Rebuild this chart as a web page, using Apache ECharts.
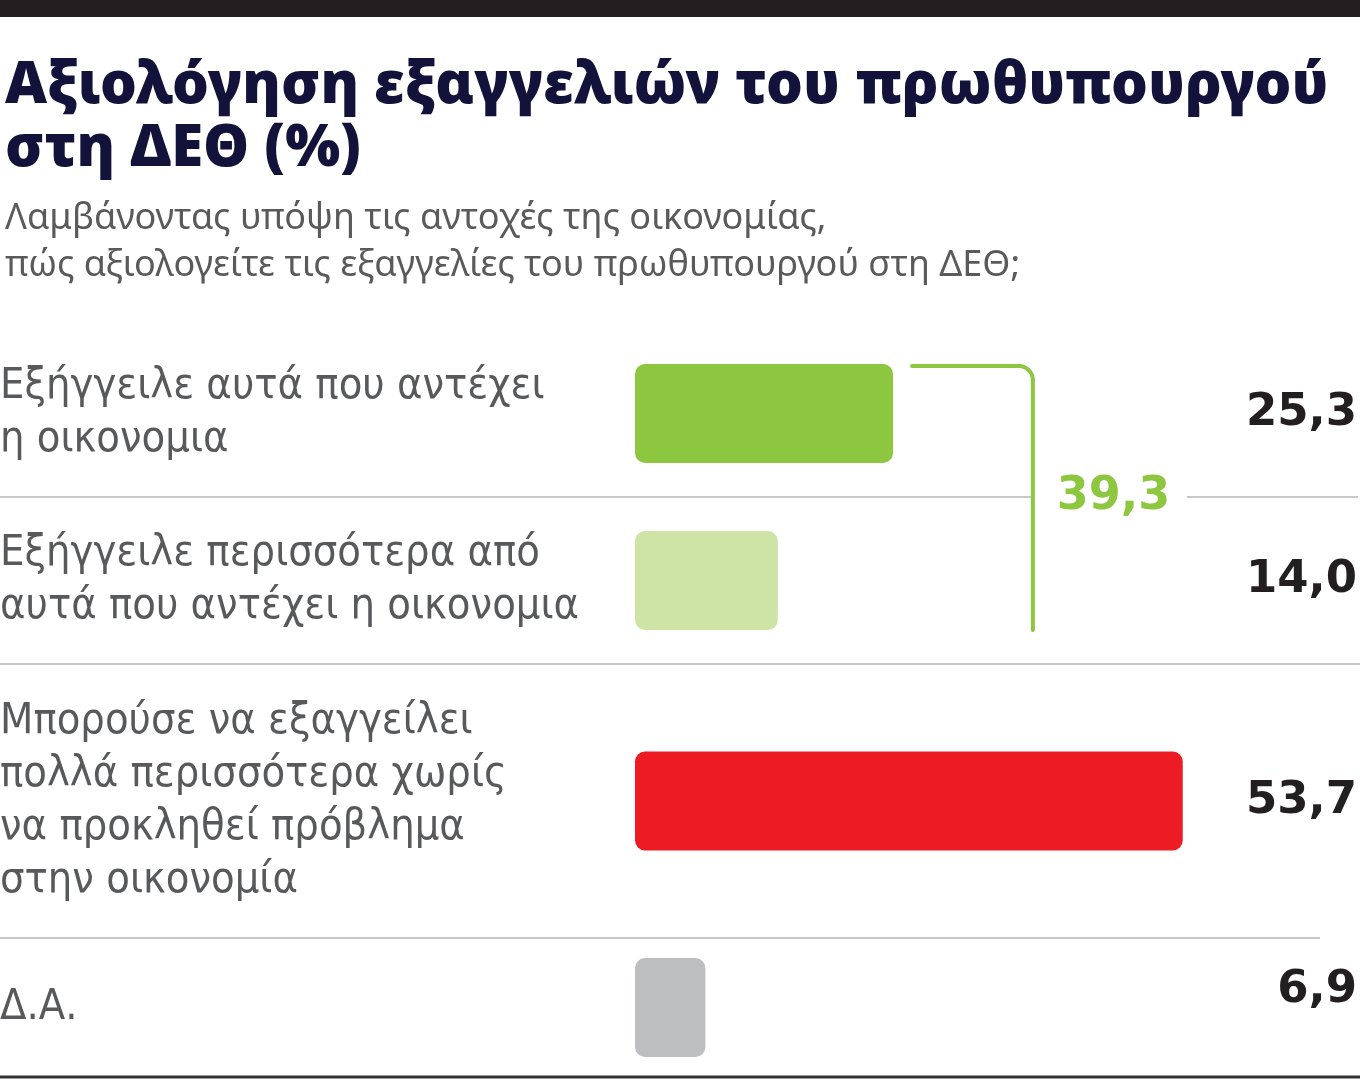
<!DOCTYPE html>
<html>
<head>
<meta charset="utf-8">
<script src="https://cdn.jsdelivr.net/npm/echarts@6/dist/echarts.min.js"></script>
<style>
html,body{margin:0;padding:0;background:#fff;}
#c{width:1360px;height:1080px;}
</style>
</head>
<body>
<div id="c"></div>
<script>
// ---- data ----
const categories = [
  'Εξήγγειλε αυτά που αντέχει\nη οικονομια',
  'Εξήγγειλε περισσότερα από\nαυτά που αντέχει η οικονομια',
  'Μπορούσε να εξαγγείλει\nπολλά περισσότερα χωρίς\nνα προκληθεί πρόβλημα\nστην οικονομία',
  'Δ.Α.'
];
const values = [25.3, 14.0, 53.7, 6.9];
const barColors = ['#8dc63f', '#cde4a5', '#ed1c24', '#bcbec0'];
const titleText = 'Αξιολόγηση εξαγγελιών του πρωθυπουργού\nστη ΔΕΘ (%)';
const subtitleText = 'Λαμβάνοντας υπόψη τις αντοχές της οικονομίας,\nπώς αξιολογείτε τις εξαγγελίες του πρωθυπουργού στη ΔΕΘ;';

const fmt = v => v.toFixed(1).replace('.', ',');
const groupTotal = values[0] + values[1];

// row layout (top, height)
const rows = [[330, 167], [497, 167], [664, 274], [938, 139]];
const GL = 635, GR = 11, XMAX = 70, BW = 99;
const labelFont = '"Liberation Sans Narrow", "DejaVu Sans Condensed", "Noto Sans", sans-serif';
const valueFont = '"DejaVu Sans", "Noto Sans", sans-serif';

const grids = [], xAxes = [], yAxes = [], series = [];
categories.forEach((cat, i) => {
  grids.push({left: GL, right: GR, top: rows[i][0], height: rows[i][1], outerBoundsMode: 'none', containLabel: false});
  xAxes.push({type: 'value', gridIndex: i, min: 0, max: XMAX, show: false});
  yAxes.push({
    type: 'category', gridIndex: i, data: [cat], position: 'left',
    axisLine: {show: false}, axisTick: {show: false},
    axisLabel: {align: 'left', margin: GL, fontSize: 43, lineHeight: 53,
      color: '#58595b', fontFamily: labelFont}
  });
  yAxes.push({
    type: 'category', gridIndex: i, data: [fmt(values[i])], position: 'right',
    axisLine: {show: false}, axisTick: {show: false},
    axisLabel: {align: 'right', margin: 8,
      formatter: s => '{v|' + s + '}',
      rich: {v: {fontSize: 45, fontWeight: 'bold', color: '#231f20', fontFamily: valueFont,
        padding: i === 3 ? [0, 0, 34, 0] : 0}}}
  });
  series.push({
    type: 'bar', xAxisIndex: i, yAxisIndex: i * 2, barWidth: BW,
    data: [values[i]], silent: true, animation: false,
    itemStyle: {color: barColors[i], borderRadius: 10}
  });
});

const chart = echarts.init(document.getElementById('c'));
chart.setOption({
  backgroundColor: '#fff',
  animation: false,
  title: [
    {text: titleText, left: 0, top: 50,
      textStyle: {fontSize: 58, fontWeight: 900, color: '#12123a', lineHeight: 63,
        fontFamily: '"Noto Sans", "DejaVu Sans", sans-serif'}},
    {text: subtitleText, left: 0, top: 190,
      textStyle: {fontSize: 36, fontWeight: 'normal', color: '#5a5a5a', lineHeight: 47,
        fontFamily: '"Noto Sans", "Open Sans", sans-serif'}}
  ],
  grid: grids, xAxis: xAxes, yAxis: yAxes, series: series
});

// annotations from axis scales
const p1 = chart.convertToPixel({xAxisIndex: 0, yAxisIndex: 0}, [values[0], 0]);
const p2 = chart.convertToPixel({xAxisIndex: 1, yAxisIndex: 2}, [values[1], 0]);
const pt = chart.convertToPixel({xAxisIndex: 0, yAxisIndex: 0}, [groupTotal, 0]);
const x0 = p1[0] + 19, y0 = p1[1] - BW / 2 + 2, xv = pt[0] - 3, y1 = p2[1] + BW / 2, r = 14;
const sepY = rows[1][0];
const grey = '#c8c8c8';
const green = '#8dc63f';
chart.setOption({
  graphic: [
    {type: 'rect', shape: {x: 0, y: 0, width: 1360, height: 17}, style: {fill: '#231f20'}, silent: true},
    {type: 'line', shape: {x1: 0, y1: sepY, x2: xv, y2: sepY}, style: {stroke: grey, lineWidth: 2}, silent: true},
    {type: 'line', shape: {x1: xv + 154, y1: sepY, x2: 1358, y2: sepY}, style: {stroke: grey, lineWidth: 2}, silent: true},
    {type: 'line', shape: {x1: 0, y1: rows[2][0], x2: 1360, y2: rows[2][0]}, style: {stroke: grey, lineWidth: 2}, silent: true},
    {type: 'line', shape: {x1: 0, y1: rows[3][0], x2: 1320, y2: rows[3][0]}, style: {stroke: grey, lineWidth: 2}, silent: true},
    {type: 'line', shape: {x1: 0, y1: 1077, x2: 1360, y2: 1077}, style: {stroke: '#333', lineWidth: 3}, silent: true},
    {type: 'line', shape: {x1: x0, y1: y0, x2: xv - r, y2: y0}, style: {stroke: green, lineWidth: 4, lineCap: 'round'}, silent: true},
    {type: 'arc', shape: {cx: xv - r, cy: y0 + r, r: r, startAngle: -Math.PI / 2, endAngle: 0, clockwise: true},
      style: {stroke: green, lineWidth: 4, fill: null}, silent: true},
    {type: 'line', shape: {x1: xv, y1: y0 + r, x2: xv, y2: y1}, style: {stroke: green, lineWidth: 4, lineCap: 'round'}, silent: true},
    {type: 'text', x: xv + 24, y: sepY, silent: true,
      style: {text: fmt(groupTotal), fill: green, fontSize: 46, fontWeight: 'bold',
        fontFamily: valueFont, verticalAlign: 'middle', align: 'left'}}
  ]
});
</script>
</body>
</html>
